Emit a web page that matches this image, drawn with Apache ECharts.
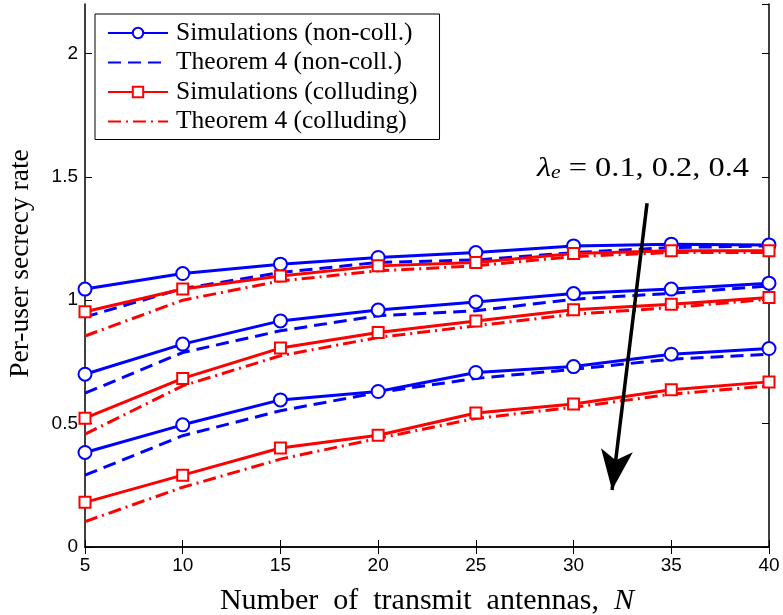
<!DOCTYPE html>
<html>
<head>
<meta charset="utf-8">
<script src="https://cdn.jsdelivr.net/npm/echarts@6/dist/echarts.min.js"></script>
<style>
  html, body { margin: 0; padding: 0; background: #fff; }
  #main { width: 783px; height: 615px; }
</style>
</head>
<body>
<div id="main"></div>
<script>
// number of transmit antennas
var nAntennas = [5, 10, 15, 20, 25, 30, 35, 40];

// per-user secrecy rate, one array per lambda_e = 0.1, 0.2, 0.4
var simNonColl1 = [1.045, 1.108, 1.146, 1.173, 1.193, 1.220, 1.227, 1.224];
var simNonColl2 = [0.700, 0.822, 0.916, 0.960, 0.993, 1.027, 1.045, 1.069];
var simNonColl3 = [0.383, 0.495, 0.596, 0.630, 0.707, 0.731, 0.781, 0.804];

var thNonColl1 = [0.932, 1.047, 1.112, 1.153, 1.163, 1.193, 1.213, 1.220];
var thNonColl2 = [0.623, 0.788, 0.876, 0.937, 0.957, 1.004, 1.028, 1.058];
var thNonColl3 = [0.291, 0.451, 0.552, 0.626, 0.683, 0.720, 0.761, 0.781];

var simColl1 = [0.953, 1.045, 1.098, 1.139, 1.153, 1.189, 1.200, 1.200];
var simColl2 = [0.522, 0.683, 0.806, 0.869, 0.916, 0.961, 0.984, 1.011];
var simColl3 = [0.181, 0.291, 0.401, 0.453, 0.543, 0.579, 0.637, 0.669];

var thColl1 = [0.855, 1.000, 1.078, 1.119, 1.139, 1.177, 1.193, 1.193];
var thColl2 = [0.457, 0.653, 0.775, 0.849, 0.896, 0.943, 0.970, 1.004];
var thColl3 = [0.103, 0.242, 0.356, 0.440, 0.521, 0.566, 0.619, 0.653];

var xTicks = [5, 10, 15, 20, 25, 30, 35, 40];
var yTicks = [0, 0.5, 1, 1.5, 2];

// arrow showing increasing lambda_e (start, tip) in data units
var arrowFrom = [33.76, 1.393];
var arrowTo = [31.97, 0.231];

var names = ['Simulations (non-coll.)', 'Theorem 4 (non-coll.)',
             'Simulations (colluding)', 'Theorem 4 (colluding)'];

function pairs(ys) {
    return nAntennas.map(function (n, i) { return [n, ys[i]]; });
}

var serif = 'Liberation Serif';
var blue = '#0000ff', red = '#ff0000';

function simSeries(name, ys, color, symbol, size) {
    return {
        name: name, type: 'line', data: pairs(ys),
        symbol: symbol, symbolSize: size, showAllSymbol: true,
        lineStyle: { color: color, width: 3 },
        itemStyle: { color: color, borderColor: color, borderWidth: 2.5 },
        emphasis: { disabled: true }, animation: false
    };
}
function thSeries(name, ys, color, dash) {
    return {
        name: name, type: 'line', data: pairs(ys), symbol: 'none',
        lineStyle: { color: color, width: 3, type: dash },
        itemStyle: { color: 'transparent' }, // no dot in the legend
        emphasis: { disabled: true }, animation: false
    };
}

var series = [];
[simNonColl1, simNonColl2, simNonColl3].forEach(function (d) {
    series.push(simSeries(names[0], d, blue, 'emptyCircle', 13));
});
[thNonColl1, thNonColl2, thNonColl3].forEach(function (d) {
    series.push(thSeries(names[1], d, blue, [13, 7]));
});
[simColl1, simColl2, simColl3].forEach(function (d) {
    series.push(simSeries(names[2], d, red, 'emptyRect', 11));
});
[thColl1, thColl2, thColl3].forEach(function (d) {
    series.push(thSeries(names[3], d, red, [13, 5, 2, 5]));
});

// arrow annotation
series[series.length - 1].markLine = {
    silent: true,
    animation: false,
    symbol: ['none', 'arrow'],
    label: { show: false },
    lineStyle: { color: '#000', width: 3.5, type: 'solid' },
    data: [[
        { coord: arrowFrom, symbol: 'none' },
        { coord: arrowTo, symbol: 'arrow', symbolSize: [24, 40] }
    ]]
};

var axisLabelStyle = { color: '#000', fontFamily: 'Liberation Sans', fontSize: 19 };

var option = {
    backgroundColor: '#fff',
    animation: false,
    grid: { left: 85, right: 14, top: 4, bottom: 68, outerBoundsMode: 'none' },
    legend: {
        data: names,
        orient: 'vertical',
        left: 95, top: 14,
        padding: [6, 22, 5, 12],
        itemWidth: 60, itemHeight: 13, itemGap: 3.5,
        borderColor: '#000', borderWidth: 1,
        backgroundColor: '#fff',
        selectedMode: false,
        textStyle: { fontFamily: serif, fontSize: 25.5, color: '#000', lineHeight: 25, padding: [0, 0, 0, 3] }
    },
    xAxis: [{
        type: 'value', min: xTicks[0], max: xTicks[xTicks.length - 1], interval: 5,
        name: '{t|Number  of  transmit  antennas,  }{i|N}',
        nameLocation: 'middle', nameGap: 39,
        nameTextStyle: {
            rich: {
                t: { fontFamily: serif, fontSize: 30, color: '#000' },
                i: { fontFamily: serif, fontSize: 30, fontStyle: 'italic', color: '#000' }
            }
        },
        axisLine: { lineStyle: { color: '#000', width: 1.5 } },
        axisTick: { inside: true, length: 7, lineStyle: { color: '#000' } },
        axisLabel: Object.assign({ margin: 9 }, axisLabelStyle),
        splitLine: { show: false }
    }, {
        type: 'value', position: 'top', min: xTicks[0], max: xTicks[xTicks.length - 1], interval: 5,
        axisLine: { lineStyle: { color: '#000', width: 1.5 } },
        axisTick: { inside: true, length: 7, lineStyle: { color: '#000' } },
        axisLabel: { show: false },
        splitLine: { show: false }
    }],
    yAxis: [{
        type: 'value', min: yTicks[0], max: 2.2, interval: 0.5,
        name: 'Per-user secrecy rate',
        nameLocation: 'middle', nameGap: 50,
        nameTextStyle: { fontFamily: serif, fontSize: 27.5, color: '#000', padding: [0, 0, 0, 24] },
        axisLine: { show: true, lineStyle: { color: '#000', width: 1.5 } },
        axisTick: { show: true, inside: true, length: 7, lineStyle: { color: '#000' } },
        axisLabel: Object.assign({ margin: 7, showMaxLabel: false }, axisLabelStyle),
        splitLine: { show: false }
    }, {
        type: 'value', position: 'right', min: yTicks[0], max: 2.2, interval: 0.5,
        axisLine: { show: true, lineStyle: { color: '#000', width: 1.5 } },
        axisTick: { show: true, inside: true, length: 7, lineStyle: { color: '#000' } },
        axisLabel: { show: false },
        splitLine: { show: false }
    }],
    graphic: [{
        type: 'text',
        left: 537, top: 155,
        scaleX: 1.2,
        style: {
            text: '{l|λ}{s|e}{t| = 0.1, 0.2, 0.4}',
            rich: {
                l: { fontFamily: serif, fontSize: 27, fontStyle: 'italic', fill: '#000', verticalAlign: 'bottom', lineHeight: 29 },
                s: { fontFamily: serif, fontSize: 18, fontStyle: 'italic', fill: '#000', verticalAlign: 'bottom', lineHeight: 21 },
                t: { fontFamily: serif, fontSize: 27, fill: '#000', verticalAlign: 'bottom', lineHeight: 29 }
            }
        }
    }],
    series: series
};

var myChart = echarts.init(document.getElementById('main'));
myChart.setOption(option);
</script>
</body>
</html>
